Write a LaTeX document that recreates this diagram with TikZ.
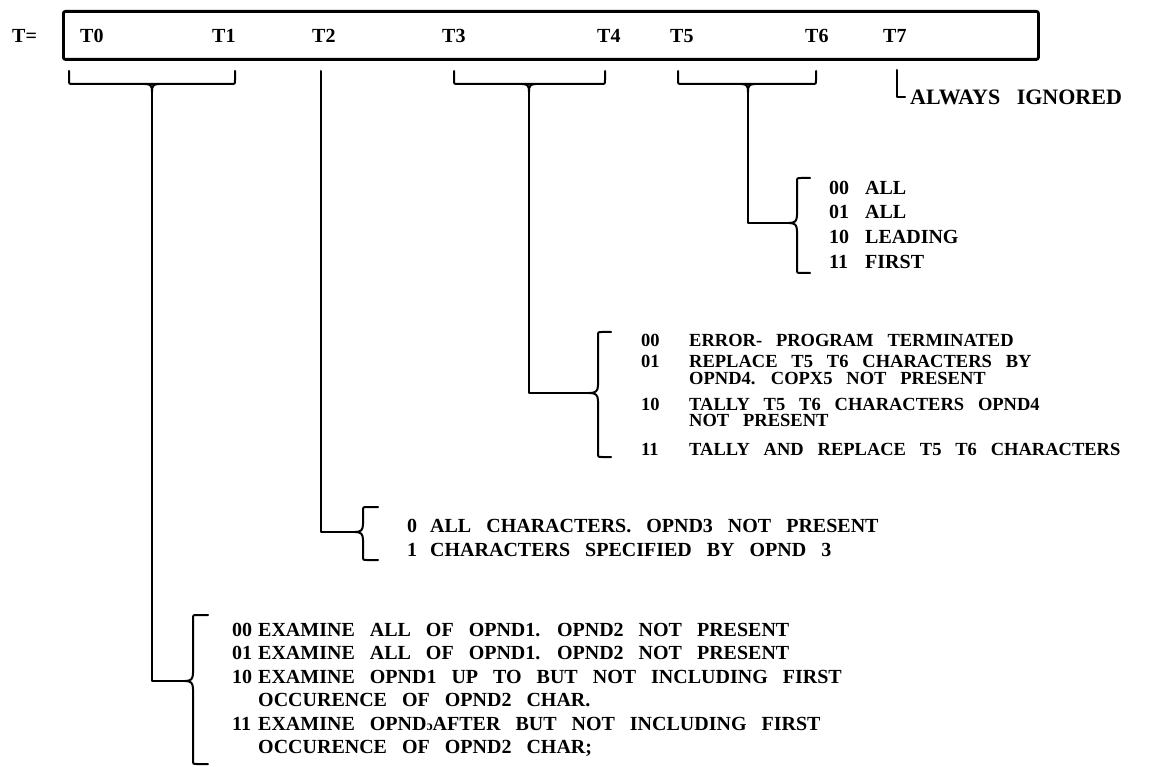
\documentclass[tikz,border=0pt]{standalone}
\usepackage{fontspec}
\setmainfont{Liberation Serif}[WordSpace=3]
\newcommand\twolines[3]{\vtop{\baselineskip=#1pt\hbox{#2}\hbox{#3}}}
\begin{document}
\begin{tikzpicture}[x=1pt,y=-1pt]
\tikzset{
  lbl/.style={font=\fontsize{20}{20}\selectfont\bfseries, inner sep=0pt, anchor=base west},
  lblb/.style={font=\fontsize{18.5}{18.5}\selectfont\bfseries, inner sep=0pt, anchor=base west},
  big/.style={font=\fontsize{22}{22}\selectfont\bfseries, inner sep=0pt, anchor=base west},
  conn/.style={line width=2pt, line cap=round, line join=round},
  regbox/.style={draw, line width=2.8pt, rounded corners=2pt, inner sep=0pt, anchor=north west,
    minimum width=975pt, minimum height=48pt},
}
\newcommand\mybracket[3]{%
  \draw[conn] (#1,71) -- (#1,80) .. controls (#1,84) .. (#1+4,84) -- (#2-4,84)
     .. controls (#2,84) .. (#2,80) -- (#2,71);
  \draw[conn] (#3-7,84) .. controls (#3-1,84) and (#3,86) .. (#3,92);
  \draw[conn] (#3+7,84) .. controls (#3+1,84) and (#3,86) .. (#3,92);
}
\newcommand\mybrace[6]{%
  \draw[conn] (#6,#3) -- (#1+4,#3) .. controls (#1,#3) .. (#1,#3+4) -- (#1,#4-8)
     .. controls (#1,#4-2) and (#1-2,#4) .. (#2,#4)
     .. controls (#1-2,#4) and (#1,#4+2) .. (#1,#4+8) -- (#1,#5-4)
     .. controls (#1,#5) .. (#1+4,#5) -- (#6,#5);
}
\useasboundingbox (0,0) rectangle (1168,767);
\fill[white] (0,0) rectangle (1168,767);

% register
\node[lbl] (teq) at (12,43) {T=};
\node[regbox] (reg) at (62,10) {};
\node[lbl] (t0) at (80,43) {T0};
\node[lbl] (t1) at (212,43) {T1};
\node[lbl] (t2) at (312,43) {T2};
\node[lbl] (t3) at (442,43) {T3};
\node[lbl] (t4) at (597,43) {T4};
\node[lbl] (t5) at (670,43) {T5};
\node[lbl] (t6) at (805,43) {T6};
\node[lbl] (t7) at (883,43) {T7};

% top brackets
\mybracket{69}{235}{152}
\mybracket{454}{605}{529}
\mybracket{678}{816}{748}

% T7
\coordinate (c7a) at (897,70);
\coordinate (c7b) at (897,97);
\coordinate (c7c) at (905,97);
\draw[conn] (c7a) -- (c7b) -- (c7c);
\node[big] (ign) at (910,105) {ALWAYS IGNORED};

% T5 T6
\coordinate (s56a) at (748,92);
\coordinate (s56b) at (748,223);
\coordinate (s56c) at (789,223);
\draw[conn] (s56a) -- (s56b) -- (s56c);
\mybrace{797}{789}{178}{223}{273}{810}
\node[lbl] (a0) at (829,195) {00};
\node[lbl] (a1) at (829,219) {01};
\node[lbl] (a2) at (829,244) {10};
\node[lbl] (a3) at (829,269) {11};
\node[lbl] (a0t) at (865,195) {ALL};
\node[lbl] (a1t) at (865,219) {ALL};
\node[lbl] (a2t) at (865,244) {LEADING};
\node[lbl] (a3t) at (865,269) {FIRST};

% T3 T4
\coordinate (s34a) at (529,92);
\coordinate (s34b) at (529,393);
\coordinate (s34c) at (589,393);
\draw[conn] (s34a) -- (s34b) -- (s34c);
\mybrace{598}{589}{332}{393}{457}{611}
\node[lblb] (b0) at (641,347) {00};
\node[lblb] (b1) at (641,368) {01};
\node[lblb] (b2) at (641,410) {10};
\node[lblb] (b3) at (641,455) {11};
\node[lblb] (b0t) at (689,347) {ERROR- PROGRAM TERMINATED};
\node[lblb] (b1t) at (689,368) {\twolines{17}{REPLACE T5 T6 CHARACTERS BY}{OPND4. COPX5 NOT PRESENT}};
\node[lblb] (b2t) at (689,410) {\twolines{17}{TALLY T5 T6 CHARACTERS OPND4}{NOT PRESENT}};
\node[lblb] (b3t) at (689,455) {TALLY AND REPLACE T5 T6 CHARACTERS};

% T2
\coordinate (s2a) at (321,71);
\coordinate (s2b) at (321,532);
\coordinate (s2c) at (355,532);
\draw[conn] (s2a) -- (s2b) -- (s2c);
\mybrace{363}{355}{507}{532}{560}{378}
\node[lbl] (c0) at (407,532) {0};
\node[lbl] (c1) at (407,556) {1};
\node[lbl] (c0t) at (430,532) {ALL CHARACTERS. OPND3 NOT PRESENT};
\node[lbl] (c1t) at (430,556) {CHARACTERS SPECIFIED BY OPND 3};

% T0 T1
\coordinate (s01a) at (152,92);
\coordinate (s01b) at (152,681);
\coordinate (s01c) at (185,681);
\draw[conn] (s01a) -- (s01b) -- (s01c);
\mybrace{193}{185}{615}{681}{764}{208}
\node[lbl] (d0) at (232,636) {00};
\node[lbl] (d1) at (232,659) {01};
\node[lbl] (d2) at (232,683) {10};
\node[lbl] (d3) at (232,730) {11};
\node[lbl] (d0t) at (258,636) {EXAMINE ALL OF OPND1. OPND2 NOT PRESENT};
\node[lbl] (d1t) at (258,659) {EXAMINE ALL OF OPND1. OPND2 NOT PRESENT};
\node[lbl] (d2t) at (258,683) {\twolines{23}{EXAMINE OPND1 UP TO BUT NOT INCLUDING FIRST}{OCCURENCE OF OPND2 CHAR.}};
\node[lbl] (d3t) at (258,730) {\twolines{23}{EXAMINE OPND{\fontsize{14}{14}\selectfont ɔ}AFTER BUT NOT INCLUDING FIRST}{OCCURENCE OF OPND2 CHAR;}};
\end{tikzpicture}
\end{document}
